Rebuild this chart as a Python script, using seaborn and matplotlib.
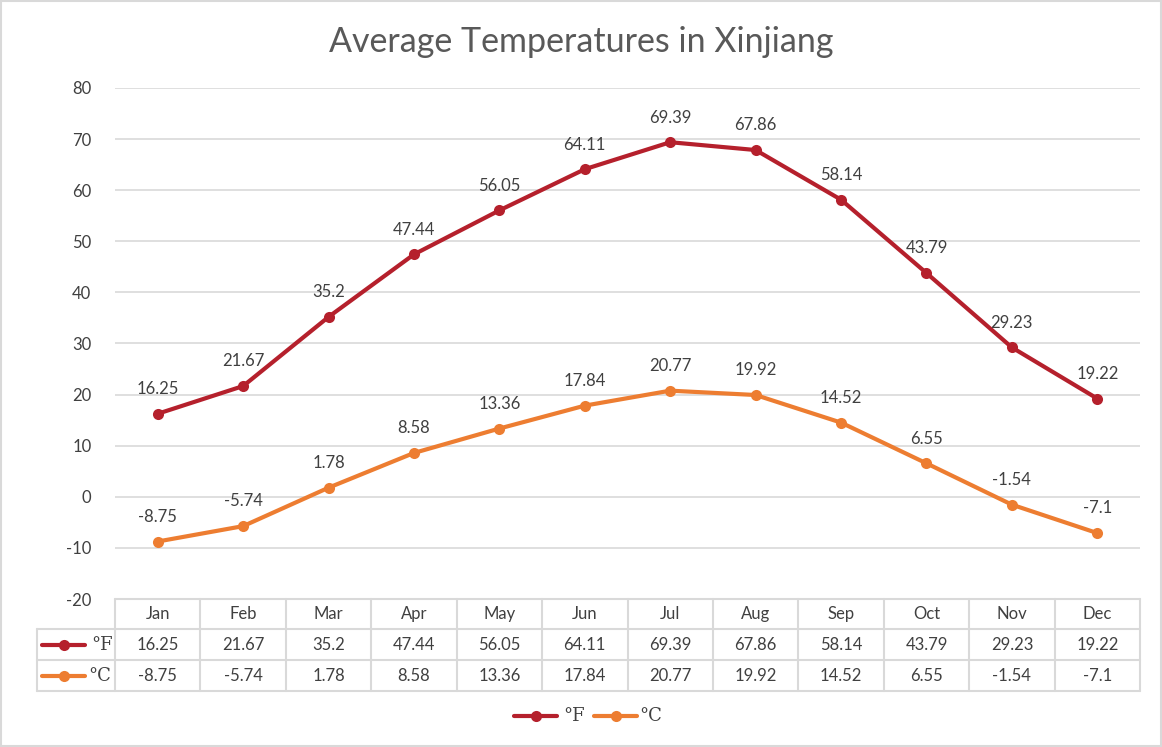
import matplotlib
matplotlib.use("Agg")
import matplotlib.pyplot as plt
import seaborn as sns
import pandas as pd
import numpy as np
from matplotlib.lines import Line2D
from matplotlib.patches import Rectangle

months = ["Jan", "Feb", "Mar", "Apr", "May", "Jun", "Jul", "Aug", "Sep", "Oct", "Nov", "Dec"]
temp_f = [16.25, 21.67, 35.2, 47.44, 56.05, 64.11, 69.39, 67.86, 58.14, 43.79, 29.23, 19.22]
temp_c = [-8.75, -5.74, 1.78, 8.58, 13.36, 17.84, 20.77, 19.92, 14.52, 6.55, -1.54, -7.1]
series_names = ["°F", "°C"]
y_ticks = [-20, -10, 0, 10, 20, 30, 40, 50, 60, 70, 80]

colors = {"°F": "#B5202C", "°C": "#ED7D31"}
TXT = "#404040"
GRID = "#D9D9D9"
FS = 12

sns.set_theme(style="white")
plt.rcParams["font.family"] = ["Lato", "DejaVu Sans"]

W, H = 1162, 747
fig = plt.figure(figsize=(W / 100, H / 100), dpi=100)

def fx(x):
    return x / W

def fy(y):
    return 1 - y / H

L, R, T, B = 115, 1140, 88, 599
ax = fig.add_axes([fx(L), fy(B), fx(R) - fx(L), fy(T) - fy(B)])

df = pd.DataFrame({
    "idx": list(range(len(months))) * 2,
    "value": temp_f + temp_c,
    "series": [series_names[0]] * len(months) + [series_names[1]] * len(months),
})

sns.lineplot(data=df, x="idx", y="value", hue="series", palette=colors, marker="o",
             markersize=8, markeredgewidth=0, linewidth=3, sort=False, legend=False, ax=ax)

ax.set_xlim(-0.5, len(months) - 0.5)
ax.set_ylim(-20, 80)
ax.set_yticks(y_ticks)
ax.set_yticklabels([str(v) for v in y_ticks], color=TXT, fontsize=FS)
ax.tick_params(axis="y", length=0, pad=17)
ax.set_xticks([])
ax.set_xlabel("")
ax.set_ylabel("")
for s in ax.spines.values():
    s.set_visible(False)
ax.grid(axis="y", color=GRID, linewidth=1.2)
ax.set_axisbelow(True)

# data labels
for i in range(len(months)):
    for vals in (temp_f, temp_c):
        ax.annotate(f"{vals[i]:g}", (i, vals[i]), xytext=(0, 12), textcoords="offset points",
                    ha="center", va="bottom", fontsize=FS, color=TXT)

# title
fig.text(0.5, fy(42), "Average Temperatures in Xinjiang", ha="center", va="center",
         fontsize=24.5, color="#595959")

# data table
col_w = (R - L) / len(months)
lw = 1.5
def hline(y, x0, x1):
    fig.add_artist(Line2D([fx(x0), fx(x1)], [fy(y), fy(y)], color=GRID, lw=lw, transform=fig.transFigure))
def vline(x, y0, y1):
    fig.add_artist(Line2D([fx(x), fx(x)], [fy(y0), fy(y1)], color=GRID, lw=lw, transform=fig.transFigure))

hline(599, L, R)
for y in (629, 660, 691):
    hline(y, 37, R)
vline(37, 629, 691)
for k in range(len(months) + 1):
    vline(L + k * col_w, 599, 691)

for i, m in enumerate(months):
    cx = L + (i + 0.5) * col_w
    fig.text(fx(cx), fy(614), m, ha="center", va="center", fontsize=FS, color=TXT)
    fig.text(fx(cx), fy(645), f"{temp_f[i]:g}", ha="center", va="center", fontsize=FS, color=TXT)
    fig.text(fx(cx), fy(676), f"{temp_c[i]:g}", ha="center", va="center", fontsize=FS, color=TXT)

def legend_key(x0, x1, y, color):
    fig.add_artist(Line2D([fx(x0), fx(x1)], [fy(y), fy(y)], color=color, lw=3,
                          solid_capstyle="round", transform=fig.transFigure))
    fig.add_artist(Line2D([fx((x0 + x1) / 2)], [fy(y)], color=color, marker="o", markersize=8,
                          markeredgewidth=0, transform=fig.transFigure))

legend_key(42, 85, 645, colors["°F"])
fig.text(fx(91), fy(645), "°F", ha="left", va="center", fontsize=13, color=TXT, family="DejaVu Serif")
legend_key(42, 85, 676, colors["°C"])
fig.text(fx(88), fy(676), "°C", ha="left", va="center", fontsize=13, color=TXT, family="DejaVu Serif")

# bottom legend
legend_key(514, 557, 716, colors["°F"])
fig.text(fx(563), fy(716), "°F", ha="left", va="center", fontsize=13, color=TXT, family="DejaVu Serif")
legend_key(594, 637, 716, colors["°C"])
fig.text(fx(639), fy(716), "°C", ha="left", va="center", fontsize=13, color=TXT, family="DejaVu Serif")

# outer border
fig.add_artist(Rectangle((0.001, 0.001), 0.998, 0.998, fill=False, edgecolor=GRID, lw=1.5,
                         transform=fig.transFigure))

fig.savefig("out.png", dpi=100)
